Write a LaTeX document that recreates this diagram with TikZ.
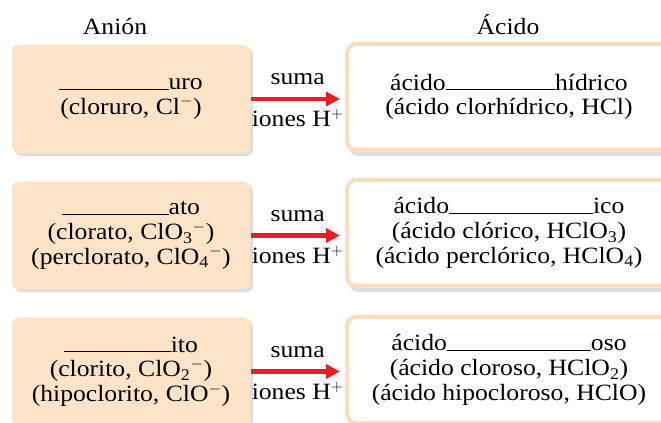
\documentclass[tikz,border=0pt]{standalone}
\usepackage{fontspec}
\setmainfont{Liberation Serif}[FakeStretch=1.1]
\usetikzlibrary{arrows.meta,shadows}

\definecolor{durazno}{RGB}{253,228,201}
\definecolor{bordedurazno}{RGB}{252,222,190}
\definecolor{rojoflecha}{RGB}{236,28,36}
\definecolor{sombra}{RGB}{222,222,222}

\newcommand{\blank}[1]{\rule{#1}{0.7pt}}

\tikzset{every picture/.style={line width=0.75pt}}
\tikzset{
  anion/.style={fill=durazno, rounded corners=5pt, minimum width=178.5pt, minimum height=81pt,
    align=center, inner sep=0pt,
    drop shadow={shadow xshift=2.2pt, shadow yshift=-2.2pt, fill=sombra, opacity=1}},
  acido/.style={draw=bordedurazno, line width=3pt, fill=white, rounded corners=7pt,
    minimum width=243pt, minimum height=79.5pt, align=center, inner sep=0pt,
    drop shadow={shadow xshift=1.5pt, shadow yshift=-4.5pt, fill=sombra, opacity=1}},
  flecha/.style={draw=rojoflecha, line width=3.3pt, -{Triangle[length=10.5pt,width=10.5pt]}, shorten >=3.75pt},
  rotulo/.style={inner sep=0pt, anchor=base}
}

\begin{document}
\begin{tikzpicture}[x=0.75pt,y=0.75pt,yscale=-1,xscale=1,font=\fontsize{17.5}{18.5}\selectfont]
\useasboundingbox (0,0) rectangle (661,423);

% Titles
\node[rotulo] (tanion) at (115,35) {Anión};
\node[rotulo] (tacido) at (508,35) {Ácido};

% Anion boxes
\node[anion] (an1) at (131,99) {\blank{82pt}uro\\(cloruro, Cl$^{-}$)};
\node[anion] (an2) at (131,235.5) {\blank{80pt}ato\\(clorato, ClO\textsubscript{3}$^{-}$)\\(perclorato, ClO\textsubscript{4}$^{-}$)};
\node[anion] (an3) at (131,371.5) {\blank{80pt}ito\\(clorito, ClO\textsubscript{2}$^{-}$)\\(hipoclorito, ClO$^{-}$)};

% Acid boxes
\node[acido] (ac1) at (509,97) {ácido\blank{82pt}hídrico\\(ácido clorhídrico, HCl)};
\node[acido] (ac2) at (509,233) {ácido\blank{108pt}ico\\(ácido clórico, HClO\textsubscript{3})\\(ácido perclórico, HClO\textsubscript{4})};
\node[acido] (ac3) at (509,370) {ácido\blank{108pt}oso\\(ácido cloroso, HClO\textsubscript{2})\\(ácido hipocloroso, HClO)};

% Arrows
\draw[flecha] (an1.east) -- (an1.east -| ac1.west)
  node[rotulo, midway, yshift=10.5pt] (s1) {suma}
  node[rotulo, midway, yshift=-21pt] (i1) {iones H$^{+}$};
\draw[flecha] (an2.east) -- (an2.east -| ac2.west)
  node[rotulo, midway, yshift=10.5pt] (s2) {suma}
  node[rotulo, midway, yshift=-21pt] (i2) {iones H$^{+}$};
\draw[flecha] (an3.east) -- (an3.east -| ac3.west)
  node[rotulo, midway, yshift=10.5pt] (s3) {suma}
  node[rotulo, midway, yshift=-21pt] (i3) {iones H$^{+}$};

\end{tikzpicture}
\end{document}
